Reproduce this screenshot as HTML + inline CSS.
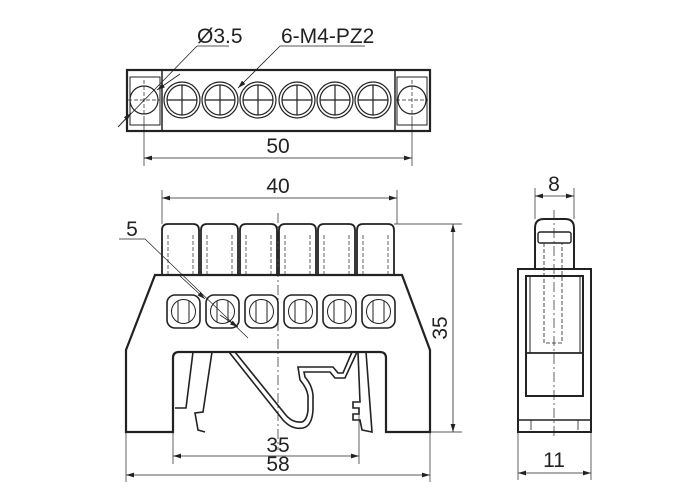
<!DOCTYPE html>
<html><head><style>body{margin:0;background:#fff}svg{display:block}text{font-family:"Liberation Sans",sans-serif;font-size:21px;fill:#222}</style></head>
<body>
<svg width="700" height="500" viewBox="0 0 700 500" xmlns="http://www.w3.org/2000/svg">
<defs><marker id="a" viewBox="0 0 10 6" refX="10" refY="3" markerWidth="10" markerHeight="6" orient="auto-start-reverse"><path d="M0,0L10,3L0,6z" fill="#222"/></marker></defs>
<g stroke="#222" fill="none">
<rect x="127" y="70" width="303" height="61" stroke-width="2.2"/>
<rect x="130" y="77" width="30" height="48" stroke-width="1"/>
<line x1="162" y1="70" x2="162" y2="131" stroke-width="1.5"/>
<rect x="397" y="77" width="30" height="48" stroke-width="1"/>
<line x1="395" y1="70" x2="395" y2="131" stroke-width="1.5"/>
<circle cx="144" cy="100" r="14" stroke-width="1.2"/>
<circle cx="412" cy="100" r="14" stroke-width="1.2"/>
<g stroke-width="1.2">
<circle cx="182" cy="100" r="18"/><circle cx="182" cy="100" r="15"/>
<circle cx="220" cy="100" r="18"/><circle cx="220" cy="100" r="15"/>
<circle cx="258" cy="100" r="18"/><circle cx="258" cy="100" r="15"/>
<circle cx="297" cy="100" r="18"/><circle cx="297" cy="100" r="15"/>
<circle cx="335" cy="100" r="18"/><circle cx="335" cy="100" r="15"/>
<circle cx="373" cy="100" r="18"/><circle cx="373" cy="100" r="15"/>
<path d="M167,100h30M182,85v30M205,100h30M220,85v30M243,100h30M258,85v30M282,100h30M297,85v30M320,100h30M335,85v30M358,100h30M373,85v30"/>
</g>
<g stroke-width="0.7" stroke-dasharray="4,2">
<path d="M144,80v40M128,100h32M412,80v40M396,100h32"/>
</g>
<path d="M144,120v46M412,120v46" stroke-width="0.7"/>
<line x1="144" y1="158" x2="412" y2="158" stroke-width="0.8" marker-start="url(#a)" marker-end="url(#a)"/>
<path d="M197,46h32M197,46L118,127" stroke-width="0.8"/>
<line x1="118" y1="127" x2="131" y2="113" stroke-width="0.8" marker-end="url(#a)"/>
<line x1="180" y1="74" x2="157" y2="90" stroke-width="0.8" marker-end="url(#a)"/>
<path d="M280,46h85" stroke-width="0.8"/>
<line x1="280" y1="46" x2="238" y2="88" stroke-width="0.8" marker-end="url(#a)"/>
<path d="M126,432V350L155,275H402L430,350V432H386V358Q386,352 380,352H179Q173,352 173,358V432Z" stroke-width="2.2"/>
<g stroke-width="1.8">
<path d="M162,274V230Q162,224 168,224H193Q199,224 199,230V274"/>
<path d="M201,274V230Q201,224 207,224H232Q238,224 238,230V274"/>
<path d="M240,274V230Q240,224 246,224H271Q277,224 277,230V274"/>
<path d="M279,274V230Q279,224 285,224H310Q316,224 316,230V274"/>
<path d="M318,274V230Q318,224 324,224H349Q355,224 355,230V274"/>
<path d="M357,274V230Q357,224 363,224H388Q394,224 394,230V274"/>
</g>
<g stroke-width="0.7" stroke-dasharray="4,2">
<path d="M168,235V274M193,235V274M207,235V274M232,235V274M246,235V274M271,235V274M285,235V274M310,235V274M324,235V274M349,235V274M363,235V274M388,235V274"/>
</g>
<g stroke-width="1.6">
<rect x="167" y="295" width="33" height="33" rx="8"/><rect x="206" y="295" width="33" height="33" rx="8"/>
<rect x="245" y="295" width="33" height="33" rx="8"/><rect x="284" y="295" width="33" height="33" rx="8"/>
<rect x="323" y="295" width="33" height="33" rx="8"/><rect x="362" y="295" width="33" height="33" rx="8"/>
</g>
<g stroke-width="1">
<circle cx="183.5" cy="311.5" r="12"/><circle cx="222.5" cy="311.5" r="12"/><circle cx="261.5" cy="311.5" r="12"/>
<circle cx="300.5" cy="311.5" r="12"/><circle cx="339.5" cy="311.5" r="12"/><circle cx="378.5" cy="311.5" r="12"/>
<path d="M178,301v21M189,301v21M217,301v21M228,301v21M256,301v21M267,301v21M295,301v21M306,301v21M334,301v21M345,301v21M373,301v21M384,301v21"/>
</g>
<line x1="278" y1="213" x2="278" y2="450" stroke-width="0.7" stroke-dasharray="10,3,2,3"/>
<g stroke-width="1.6">
<path d="M193,352L186,408H175"/>
<path d="M212,352L203,412L195,413L198,430L205,432"/>
<path d="M229,352L283,420Q292,430 303,428Q312,426 313,410L313,395Q312,385 305,377L304,372H330L335,378H345L357,352"/>
<path d="M235,352L285,414Q292,423 302,422Q307,420 308,410L308,396Q307,388 300,380L298,367H333L338,373H343L352,352"/>
<path d="M358,352L360,402H353V408H359V414H353V420H360L362,430L372,432L366,352"/>
</g>
<path d="M162,224V190M397,224V190" stroke-width="0.7"/>
<line x1="162" y1="198" x2="397" y2="198" stroke-width="0.8" marker-start="url(#a)" marker-end="url(#a)"/>
<path d="M394,224H462M430,432H462" stroke-width="0.7"/>
<line x1="453" y1="224" x2="453" y2="432" stroke-width="0.8" marker-start="url(#a)" marker-end="url(#a)"/>
<path d="M173,432V464M359,410V464M126,432V482M430,432V482" stroke-width="0.7"/>
<line x1="173" y1="456" x2="359" y2="456" stroke-width="0.8" marker-start="url(#a)" marker-end="url(#a)"/>
<line x1="126" y1="475" x2="430" y2="475" stroke-width="0.8" marker-start="url(#a)" marker-end="url(#a)"/>
<path d="M119,239H145L248,338" stroke-width="0.7"/>
<line x1="180" y1="276" x2="205" y2="299" stroke-width="0.8" marker-end="url(#a)"/>
<line x1="220" y1="315" x2="238" y2="327" stroke-width="0.8" marker-end="url(#a)"/>
<path d="M535,269V228Q535,219 544,219H565Q574,219 574,228V269" stroke-width="2"/>
<rect x="538" y="232" width="33" height="11" rx="2" stroke-width="1.4"/>
<rect x="518" y="269" width="73" height="163" stroke-width="2"/>
<rect x="526" y="276" width="57" height="120" stroke-width="2"/>
<rect x="530" y="276" width="50" height="77" stroke-width="1"/>
<line x1="526" y1="353" x2="583" y2="353" stroke-width="1.8"/>
<line x1="518" y1="420" x2="591" y2="420" stroke-width="1.4"/>
<path d="M531,420v10M578,420v10" stroke-width="0.8"/>
<path d="M544,243V343H562V243" stroke-width="0.8" stroke-dasharray="4,2"/>
<line x1="554" y1="210" x2="554" y2="438" stroke-width="0.7" stroke-dasharray="10,3,2,3"/>
<path d="M535,219V188M574,219V188M518,432V480M591,432V480" stroke-width="0.7"/>
<line x1="535" y1="196" x2="574" y2="196" stroke-width="0.8" marker-start="url(#a)" marker-end="url(#a)"/>
<line x1="518" y1="473" x2="591" y2="473" stroke-width="0.8" marker-start="url(#a)" marker-end="url(#a)"/>
</g>
<text x="197" y="43">Ø3.5</text>
<text x="281" y="43">6-M4-PZ2</text>
<text x="278" y="153" text-anchor="middle">50</text>
<text x="278" y="193" text-anchor="middle">40</text>
<text x="132" y="236" text-anchor="middle">5</text>
<text x="278" y="452" text-anchor="middle" font-size="19">35</text>
<text x="278" y="471" text-anchor="middle" font-size="19">58</text>
<text transform="translate(447,328) rotate(-90)" text-anchor="middle">35</text>
<text x="554" y="191" text-anchor="middle">8</text>
<text x="554" y="467" text-anchor="middle">11</text>
</svg>
</body></html>
